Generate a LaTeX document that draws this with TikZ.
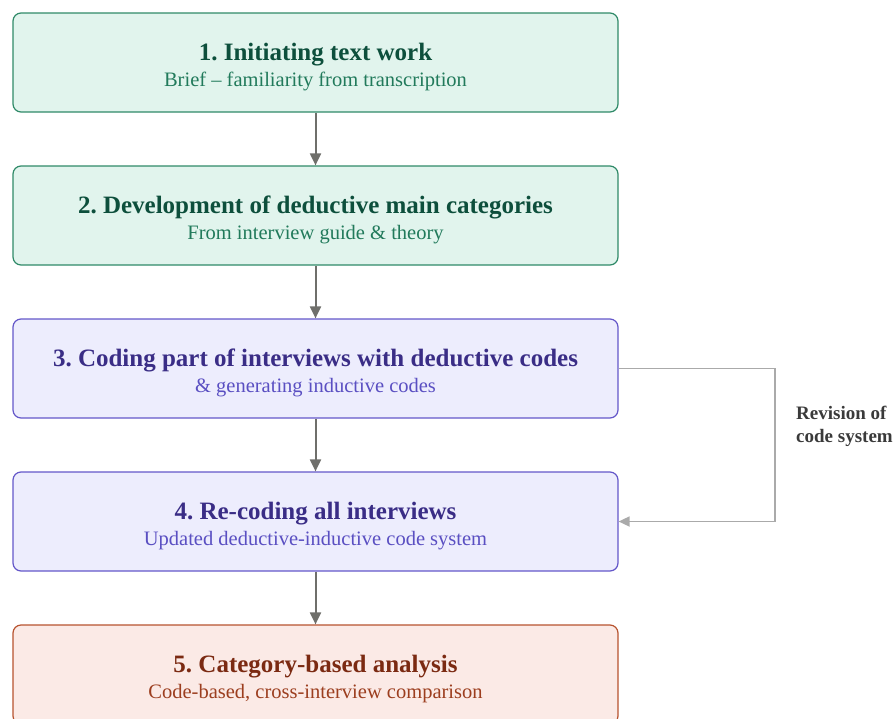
\documentclass[tikz,border=0pt]{standalone}
\usepackage{fontspec}
\setmainfont{Liberation Serif}
\usetikzlibrary{arrows.meta}
\frenchspacing

\definecolor{gFill}{HTML}{E1F4ED}
\definecolor{gLine}{HTML}{2F8A68}
\definecolor{gHead}{HTML}{0D4F3C}
\definecolor{gSub}{HTML}{217A5B}
\definecolor{pFill}{HTML}{EDEDFD}
\definecolor{pLine}{HTML}{6457C9}
\definecolor{pHead}{HTML}{3A2D86}
\definecolor{pSub}{HTML}{5A4FC2}
\definecolor{rFill}{HTML}{FBEAE6}
\definecolor{rLine}{HTML}{B7532F}
\definecolor{rHead}{HTML}{7B2A12}
\definecolor{rSub}{HTML}{9C3E1F}
\definecolor{flowGray}{HTML}{6F6F6B}
\definecolor{loopGray}{HTML}{AAAAAA}
\definecolor{noteGray}{HTML}{3A3A3A}

\tikzset{
  stage/.style={draw, line width=1.2pt, rounded corners=8pt,
    minimum width=605pt, minimum height=99pt, inner sep=0pt},
  green stage/.style={stage, draw=gLine, fill=gFill},
  purple stage/.style={stage, draw=pLine, fill=pFill},
  red stage/.style={stage, draw=rLine, fill=rFill},
  headline/.style={anchor=base, inner sep=0pt,
    font=\fontsize{25}{29}\selectfont\bfseries},
  subline/.style={anchor=base, inner sep=0pt,
    font=\fontsize{20.5}{24}\selectfont},
  flow/.style={draw=flowGray, line width=2pt,
    -{Triangle[length=12pt,width=11pt]}},
  loop/.style={draw=loopGray, line width=1.7pt,
    -{Triangle[length=11pt,width=10pt]}},
}

\begin{document}
\begin{tikzpicture}[x=1pt,y=-1pt]
\useasboundingbox (0,0) rectangle (894,718);

% stage boxes
\node[green stage]  (s1) at (315.5,62.5)  {};
\node[green stage]  (s2) at (315.5,215.5) {};
\node[purple stage] (s3) at (315.5,368.5) {};
\node[purple stage] (s4) at (315.5,521.5) {};
\node[red stage]    (s5) at (315.5,674.5) {};

% stage texts: bold heading and a lighter line beneath it
\node[headline, text=gHead] (t1) at ([yshift=2.5pt]s1.center) {1. Initiating text work};
\node[subline,  text=gSub]  (u1) at ([yshift=-23.5pt]s1.center) {Brief – familiarity from transcription};
\node[headline, text=gHead] (t2) at ([yshift=2.5pt]s2.center) {2. Development of deductive main categories};
\node[subline,  text=gSub]  (u2) at ([yshift=-23.5pt]s2.center) {From interview guide \& theory};
\node[headline, text=pHead] (t3) at ([yshift=2.5pt]s3.center) {3. Coding part of interviews with deductive codes};
\node[subline,  text=pSub]  (u3) at ([yshift=-23.5pt]s3.center) {\& generating inductive codes};
\node[headline, text=pHead] (t4) at ([yshift=2.5pt]s4.center) {4. Re-coding all interviews};
\node[subline,  text=pSub]  (u4) at ([yshift=-23.5pt]s4.center) {Updated deductive-inductive code system};
\node[headline, text=rHead] (t5) at ([yshift=2.5pt]s5.center) {5. Category-based analysis};
\node[subline,  text=rSub]  (u5) at ([yshift=-23.5pt]s5.center) {Code-based, cross-interview comparison};

% main sequence
\draw[flow] (s1.south) -- (s2.north);
\draw[flow] (s2.south) -- (s3.north);
\draw[flow] (s3.south) -- (s4.north);
\draw[flow] (s4.south) -- (s5.north);

% revision loop
\coordinate (bend) at (775,0);
\draw[loop] (s3.east) -- (bend |- s3.east) -- (bend |- s4.east) -- (s4.east);
\node[anchor=base west, inner sep=0pt, align=left, text=noteGray,
  font=\fontsize{19}{22.5}\selectfont\bfseries] (rev) at (796,442)
  {Revision of\\code system};
\end{tikzpicture}
\end{document}
